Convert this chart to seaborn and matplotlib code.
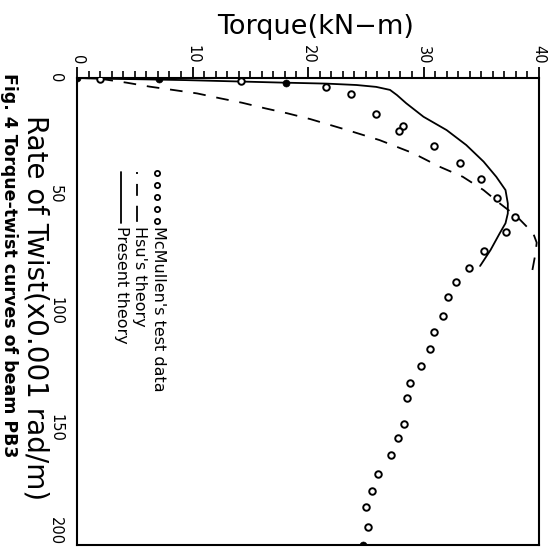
import numpy as np
import pandas as pd
import seaborn as sns
import matplotlib.pyplot as plt
from matplotlib.ticker import MultipleLocator

# McMullen's test data (torque kN-m, rate of twist x0.001 rad/m)
mcm_torque = [0, 2.0, 7.1, 14.2, 18.1, 21.6, 23.7, 25.9, 28.2, 27.9, 30.9, 33.2, 35.0,
              36.4, 37.9, 37.1, 35.2, 33.9, 32.8, 32.1, 31.7, 30.9, 30.6, 29.8, 28.8,
              28.6, 28.3, 27.8, 27.2, 26.1, 25.5, 25.0, 25.2, 24.8]
mcm_rate = [0, 0.4, 0.5, 1.1, 2.3, 3.7, 6.9, 15.4, 20.6, 22.6, 29.1, 36.5, 43.4,
            51.5, 59.4, 65.8, 74.0, 81.5, 87.5, 93.7, 101.9, 108.9, 116.2, 123.3, 130.5,
            137.0, 148.1, 154.3, 161.6, 169.8, 176.7, 183.9, 192.4, 200.0]
mcm_solid = [1, 0, 1, 0, 1, 0, 0, 0, 0, 0, 0, 0, 0,
             0, 0, 0, 0, 0, 0, 0, 0, 0, 0, 0, 0,
             0, 0, 0, 0, 0, 0, 0, 0, 1]

# Hsu's theory
hsu_torque = [0, 1.7, 4.3, 6.3, 8.3, 10.4, 12.4, 14.3, 16.3, 18.2, 20.2, 23.4, 26.2,
              29.1, 31.4, 33.4, 35.2, 36.6, 38.1, 39.5, 39.8, 39.7, 39.4]
hsu_rate = [0, 0.1, 2.0, 3.7, 5.1, 6.6, 8.7, 10.6, 13.0, 15.1, 17.6, 22.3, 26.6,
            32.2, 38.0, 42.3, 48.0, 53.7, 59.4, 66.5, 70.5, 75.0, 83.0]

# Present theory
pre_torque = [0, 2.0, 5.0, 9.4, 14.1, 18.0, 21.6, 24.2, 25.9, 27.1, 27.7, 28.5, 30.0,
              32.0, 33.7, 35.2, 36.3, 37.1, 37.3, 37.3, 37.1, 36.6, 35.8, 34.9]
pre_rate = [0, 0.3, 0.5, 0.9, 1.5, 2.0, 2.4, 3.0, 3.8, 5.1, 7.3, 10.8, 16.6,
            22.3, 28.7, 35.8, 42.3, 48.0, 53.7, 58.0, 62.2, 66.5, 73.7, 80.5]

torque_ticks = [0, 10, 20, 30, 40]
rate_ticks = [0, 50, 100, 150, 200]

mcm = pd.DataFrame({'torque': mcm_torque, 'rate': mcm_rate, 'solid': mcm_solid})
hsu = pd.DataFrame({'torque': hsu_torque, 'rate': hsu_rate})
pre = pd.DataFrame({'torque': pre_torque, 'rate': pre_rate})

sns.set_style('white')
plt.rcParams['font.family'] = ['DejaVu Sans']
plt.rcParams['text.color'] = 'black'
plt.rcParams['xtick.color'] = 'black'
plt.rcParams['ytick.color'] = 'black'

fig = plt.figure(figsize=(5.6, 5.56), dpi=100)
ax = fig.add_axes([0.1375, 0.0198, 0.825, 0.8399])

sns.lineplot(data=pre, x='torque', y='rate', sort=False, estimator=None,
             color='black', lw=1.3, ax=ax)
sns.lineplot(data=hsu, x='torque', y='rate', sort=False, estimator=None,
             color='black', lw=1.3, ax=ax, dashes=False, linestyle=(0, (7, 6)))
sns.scatterplot(data=mcm[mcm.solid == 0], x='torque', y='rate', marker='o', s=22,
                facecolor='white', edgecolor='black', linewidth=1.4, ax=ax, zorder=5)
sns.scatterplot(data=mcm[mcm.solid == 1], x='torque', y='rate', marker='o', s=26,
                color='black', edgecolor='black', ax=ax, zorder=5)

ax.set_xlim(0, 40)
ax.set_ylim(200, 0)
ax.xaxis.tick_top()
ax.set_xticks(torque_ticks)
ax.set_yticks(rate_ticks)
ax.xaxis.set_minor_locator(MultipleLocator(1))
ax.yaxis.set_minor_locator(MultipleLocator(5))
ax.tick_params(which='major', direction='out', length=8, width=1.3, pad=2,
               labelsize=10.5, color='black', labelcolor='black')
ax.tick_params(which='minor', direction='out', length=5, width=1.2, color='black')
ax.tick_params(axis='x', labelrotation=-90)
ax.tick_params(axis='y', labelrotation=-90)
ylabs = ax.get_yticklabels()
for lab in ylabs:
    lab.set_va('center')
ylabs[-1].set_va('bottom')
ax.set_xlabel('')
ax.set_ylabel('')
for sp in ax.spines.values():
    sp.set_linewidth(1.5)
    sp.set_color('black')

# legend, drawn rotated like the rest of the figure
def ay(py):
    return (545 - py) / 467

ax.scatter([0.173] * 5, [ay(p) for p in (173, 185, 197, 209, 221)], s=14,
           facecolor='white', edgecolor='black', linewidth=1.3,
           transform=ax.transAxes, zorder=5)
ax.plot([0.130, 0.130], [ay(172), ay(223)], color='black', lw=1.3,
        dashes=(1.1, 5.5, 6.6, 5.5, 8.9, 5.5), transform=ax.transAxes)
ax.plot([0.095, 0.095], [ay(172), ay(223)], color='black', lw=1.3,
        transform=ax.transAxes)
leg_kw = dict(rotation=-90, ha='center', va='top', fontsize=11.5,
              transform=ax.transAxes)
ax.text(0.176, ay(226), "McMullen's test data", **leg_kw)
ax.text(0.136, ay(226), "Hsu's theory", **leg_kw)
ax.text(0.097, ay(226), "Present theory", **leg_kw)

fig.text(0.564, 0.951, 'Torque(kN\u2212m)', ha='center', va='center', fontsize=19.5)
fig.text(0.0625, 0.446, 'Rate of Twist(x0.001 rad/m)', rotation=-90,
         ha='center', va='center', fontsize=20)
fig.text(0.016, 0.523, 'Fig. 4 Torque-twist curves of beam PB3', rotation=-90,
         ha='center', va='center', fontsize=12.5, fontweight='bold')

fig.savefig('out.png', dpi=100)
